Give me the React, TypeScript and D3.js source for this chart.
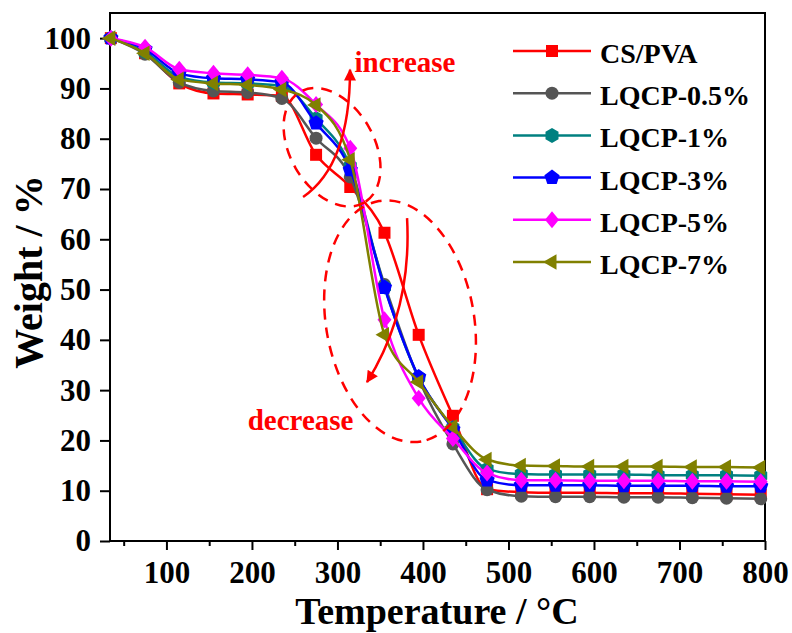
import React, { useRef, useEffect } from 'react';
import * as d3 from 'd3';

// temperature (°C) at each marker
const temps = [35, 75, 115, 155, 195, 235, 275, 315, 355, 395, 435, 475, 515, 555, 595, 635, 675, 715, 755, 795];

const csPva = [100, 97, 91, 89, 88.8, 88.5, 76.8, 70.4, 61.3, 41, 24.9, 10.3, 9.7, 9.6, 9.6, 9.5, 9.5, 9.4, 9.3, 9.2];
const lqcp05 = [100, 96.8, 91.2, 89.5, 89.2, 88, 80.1, 72.4, 51, 32.2, 19.3, 10.2, 8.9, 8.8, 8.8, 8.7, 8.7, 8.6, 8.5, 8.4];
const lqcp1 = [100, 97.3, 92.3, 91.2, 91, 90.5, 84, 74.5, 50.5, 32.5, 22.5, 14.3, 13.3, 13.2, 13.2, 13.2, 13.1, 13.1, 13.1, 13.0];
const lqcp3 = [100, 97.8, 93, 92, 91.8, 91.2, 83.1, 73.8, 50.4, 32.6, 22.2, 12.1, 11.1, 11.1, 11.1, 11.0, 11.0, 11.0, 10.9, 10.9];
const lqcp5 = [100, 98.2, 93.8, 93, 92.7, 92, 86.8, 78.1, 44, 28.4, 20.4, 13.5, 12.1, 12.1, 12.0, 12.0, 12.0, 11.9, 11.9, 11.8];
const lqcp7 = [100, 97, 91.8, 91, 90.7, 89.8, 86.7, 75.8, 41, 31.6, 22.7, 16.2, 15.0, 14.9, 14.8, 14.8, 14.8, 14.7, 14.7, 14.6];

const seriesNames = ['CS/PVA', 'LQCP-0.5%', 'LQCP-1%', 'LQCP-3%', 'LQCP-5%', 'LQCP-7%'];
const seriesValues = [csPva, lqcp05, lqcp1, lqcp3, lqcp5, lqcp7];
const seriesColors = ['#ff0000', '#555555', '#008080', '#0000ff', '#ff00ff', '#808000'];
const seriesShapes = ['square', 'circle', 'hexagon', 'pentagon', 'diamond', 'triangleLeft'];

const xTicks = [100, 200, 300, 400, 500, 600, 700, 800];
const xMinorTicks = [50, 150, 250, 350, 450, 550, 650, 750];
const yTicks = [0, 10, 20, 30, 40, 50, 60, 70, 80, 90, 100];

// annotations, in data coordinates [°C, %]
const increaseArrow = [[259.8, 68.4], [314.7, 74.8], [314.7, 93.7]];
const decreaseArrow = [[381.4, 64.2], [387.3, 45.9], [334.6, 31.6]];
const increaseLabel = [320, 93.3];
const decreaseLabel = [195, 22.1];
const ellipses = [
    { c: [293.7, 78.3], rx: 64, ry: 42, rot: 60 },
    { c: [373.2, 43.7], rx: 122, ry: 74, rot: 80 },
];

const FONT = '"Liberation Serif", "Times New Roman", serif';

const polygon = (n: number, r: number, start: number) => {
    const pts: string[] = [];
    for (let i = 0; i < n; i++) {
        const a = ((start + (i * 360) / n) * Math.PI) / 180;
        pts.push(`${(r * Math.cos(a)).toFixed(2)},${(r * Math.sin(a)).toFixed(2)}`);
    }
    return 'M' + pts.join('L') + 'Z';
};

const shapePath = (kind: string) => {
    switch (kind) {
        case 'square':
            return d3.symbol(d3.symbolSquare, 144)();
        case 'circle':
            return d3.symbol(d3.symbolCircle, Math.PI * 6.5 * 6.5)();
        case 'hexagon':
            return polygon(6, 7.5, -90);
        case 'pentagon':
            return polygon(5, 8, -90);
        case 'diamond':
            return 'M0,-8.5L7,0L0,8.5L-7,0Z';
        default:
            return polygon(3, 9, 180);
    }
};

const App = () => {
    const svgRef = useRef<SVGSVGElement>(null);
    const width = 792;
    const height = 633;

    useEffect(() => {
        document.body.style.margin = '0';
        draw();
    }, []);

    const draw = () => {
        const svg = d3.select(svgRef.current);
        svg.selectAll('*').remove();

        const left = 110, right = 765, top = 13, bottom = 541;

        const x = d3.scaleLinear().domain([34, 800]).range([left, right]);
        const y = d3.scaleLinear().domain([0, 105]).range([bottom, top]);

        const defs = svg.append('defs');
        defs.append('marker')
            .attr('id', 'arrowRed')
            .attr('viewBox', '0 0 10 10')
            .attr('refX', 9)
            .attr('refY', 5)
            .attr('markerUnits', 'userSpaceOnUse')
            .attr('markerWidth', 15)
            .attr('markerHeight', 12)
            .attr('orient', 'auto')
            .append('path')
            .attr('d', 'M0,0L10,5L0,10Z')
            .attr('fill', '#ff0000');

        // axes
        const yAxis = d3.axisLeft(y).tickValues(yTicks).tickSize(10).tickSizeOuter(0).tickPadding(9);
        const gy = svg.append('g').attr('transform', `translate(${left},0)`).call(yAxis);

        const xAxis = d3.axisBottom(x).tickValues(xTicks).tickSize(9).tickSizeOuter(0).tickPadding(11);
        const gx = svg.append('g').attr('transform', `translate(0,${bottom})`).call(xAxis);

        const xMinor = d3.axisBottom(x).tickValues(xMinorTicks).tickSize(5).tickSizeOuter(0).tickFormat(() => '');
        const gxm = svg.append('g').attr('transform', `translate(0,${bottom})`).call(xMinor);

        [gx, gy, gxm].forEach((g) => {
            g.select('.domain').remove();
            g.selectAll('line').attr('stroke', '#000').attr('stroke-width', 2);
            g.selectAll('text')
                .attr('fill', '#000')
                .style('font-family', FONT)
                .style('font-weight', 'bold')
                .style('font-size', '31px');
        });

        svg.append('rect')
            .attr('x', left)
            .attr('y', top)
            .attr('width', right - left)
            .attr('height', bottom - top)
            .attr('fill', 'none')
            .attr('stroke', '#000')
            .attr('stroke-width', 2);

        svg.append('text')
            .attr('transform', `translate(42,${272}) rotate(-90)`)
            .attr('text-anchor', 'middle')
            .style('font-family', FONT)
            .style('font-weight', 'bold')
            .style('font-size', '40px')
            .text('Weight / %');

        svg.append('text')
            .attr('x', 437)
            .attr('y', 624)
            .attr('text-anchor', 'middle')
            .style('font-family', FONT)
            .style('font-weight', 'bold')
            .style('font-size', '38px')
            .text('Temperature / °C');

        // series
        const line = d3.line<number>()
            .x((d, i) => x(temps[i]))
            .y((d) => y(d))
            .curve(d3.curveMonotoneX);

        const plot = svg.append('g');
        seriesValues.forEach((vals, si) => {
            plot.append('path')
                .attr('d', line(vals))
                .attr('fill', 'none')
                .attr('stroke', seriesColors[si])
                .attr('stroke-width', 2.5);
            plot.selectAll(`.m${si}`)
                .data(vals)
                .enter()
                .append('path')
                .attr('class', `m${si}`)
                .attr('d', shapePath(seriesShapes[si]))
                .attr('transform', (d, i) => `translate(${x(temps[i])},${y(d)})`)
                .attr('fill', seriesColors[si]);
        });

        // annotations
        const ann = svg.append('g');
        ellipses.forEach((e) => {
            ann.append('ellipse')
                .attr('cx', 0)
                .attr('cy', 0)
                .attr('rx', e.rx)
                .attr('ry', e.ry)
                .attr('transform', `translate(${x(e.c[0])},${y(e.c[1])}) rotate(${e.rot})`)
                .attr('fill', 'none')
                .attr('stroke', '#ff0000')
                .attr('stroke-width', 2.5)
                .attr('stroke-dasharray', '11,8');
        });

        [increaseArrow, decreaseArrow].forEach((a) => {
            const p = a.map((d) => [x(d[0]), y(d[1])]);
            ann.append('path')
                .attr('d', `M${p[0][0]},${p[0][1]}Q${p[1][0]},${p[1][1]} ${p[2][0]},${p[2][1]}`)
                .attr('fill', 'none')
                .attr('stroke', '#ff0000')
                .attr('stroke-width', 2.5)
                .attr('marker-end', 'url(#arrowRed)');
        });

        ann.append('text')
            .attr('x', x(increaseLabel[0]))
            .attr('y', y(increaseLabel[1]))
            .attr('fill', '#ff0000')
            .style('font-family', FONT)
            .style('font-weight', 'bold')
            .style('font-size', '29px')
            .text('increase');

        ann.append('text')
            .attr('x', x(decreaseLabel[0]))
            .attr('y', y(decreaseLabel[1]))
            .attr('fill', '#ff0000')
            .style('font-family', FONT)
            .style('font-weight', 'bold')
            .style('font-size', '29px')
            .text('decrease');

        // legend
        const legend = svg.append('g');
        seriesNames.forEach((name, i) => {
            const ly = 51 + i * 42.2;
            legend.append('line')
                .attr('x1', 513)
                .attr('x2', 591)
                .attr('y1', ly)
                .attr('y2', ly)
                .attr('stroke', seriesColors[i])
                .attr('stroke-width', 2.5);
            legend.append('path')
                .attr('d', shapePath(seriesShapes[i]))
                .attr('transform', `translate(552,${ly})`)
                .attr('fill', seriesColors[i]);
            legend.append('text')
                .attr('x', 600)
                .attr('y', ly + 12)
                .style('font-family', FONT)
                .style('font-weight', 'bold')
                .style('font-size', '28px')
                .text(name);
        });
    };

    return (
        <svg ref={svgRef} width={width} height={height} style={{ display: 'block', background: '#fff' }}></svg>
    );
};

export default App;
